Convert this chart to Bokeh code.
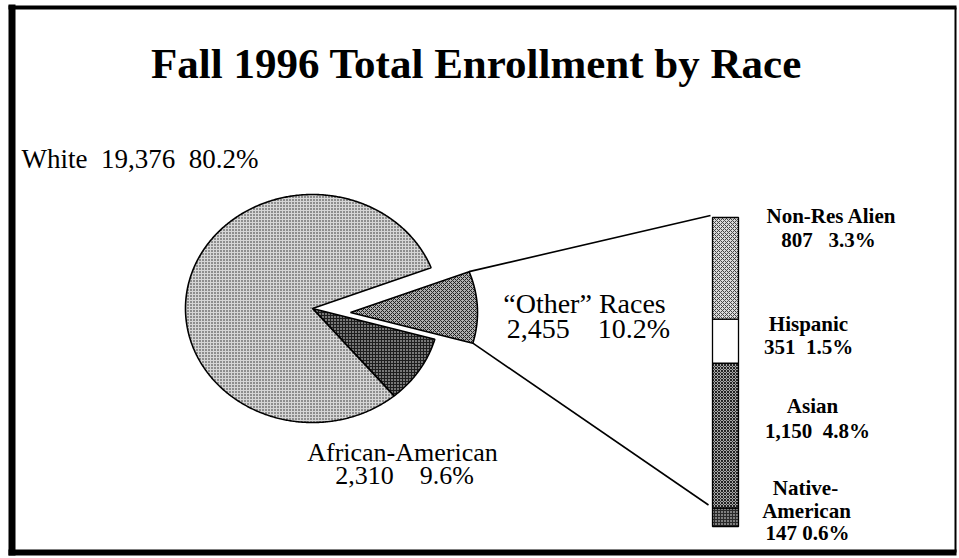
import numpy as np
from bokeh.plotting import figure
from bokeh.models import Range1d, ColumnDataSource
from bokeh.core.properties import value
from bokeh.embed import file_html
from bokeh.resources import INLINE

# ---------------- data ----------------
title_text = "Fall 1996 Total Enrollment by Race"
pie_names = ["\u201cOther\u201d Races", "African-American", "White"]
pie_counts = [2455, 2310, 19376]
pie_pcts = [10.2, 9.6, 80.2]
bar_names = ["Native-American", "Asian", "Hispanic", "Non-Res Alien"]
bar_counts = [147, 1150, 351, 807]
bar_pcts = [0.6, 4.8, 1.5, 3.3]

# ---------------- layout / style ----------------
W, H = 959, 558
FONT = value("Liberation Serif")
NB = "\u00a0"
p = figure(width=W, height=H, x_range=Range1d(0, W), y_range=Range1d(H, 0),
           output_backend="svg", toolbar_location=None, min_border=0,
           x_axis_location=None, y_axis_location=None)
p.grid.visible = False
p.outline_line_color = None
p.background_fill_color = "white"

# border
p.segment(x0=[11.5, 8, 955, 8], y0=[4, 7, 7, 552], x1=[11.5, 956, 955, 956], y1=[555, 7, 552, 552],
          line_color="black", line_width=[7, 4, 2, 6])

# pie geometry
cx, cy, rx, ry = 312, 308, 127, 114
start_deg = 21.0
explode = [(38, 4), (0, 0), (0, 0)]
styles = [
    dict(fill_color="#b0b0b0", hatch_pattern="x", hatch_color="#222222", hatch_scale=4, hatch_weight=1),
    dict(fill_color="#1e1e1e", hatch_pattern="dot", hatch_color="#ffffff", hatch_scale=3, hatch_weight=1),
    dict(fill_color="#d6d6d6", hatch_pattern="dot", hatch_color="#222222", hatch_scale=3, hatch_weight=1),
]
total = sum(pie_counts)
a = start_deg
corners = None
for i, c in enumerate(pie_counts):
    span = 360.0 * c / total
    th = np.radians(np.linspace(a, a - span, max(int(span * 2), 8)))
    ox, oy = explode[i]
    xs = [cx + ox] + list(cx + ox + rx * np.cos(th)) + [cx + ox]
    ys = [cy + oy] + list(cy + oy - ry * np.sin(th)) + [cy + oy]
    if i == 0:
        corners = ((xs[1], ys[1]), (xs[-2], ys[-2]))
    p.patch(xs, ys, line_color="black", line_width=1.6, **styles[i])
    a -= span

# stacked bar for "other" races, on its own count scale
bar_left, bar_right = 712, 738
bar_bottom_px, bar_top_px = 526, 217
other_total = sum(bar_counts)
scale = (bar_bottom_px - bar_top_px) / other_total
p.extra_y_ranges = {"bar": Range1d(start=(bar_bottom_px - H) / scale,
                                   end=(bar_bottom_px - 0) / scale)}
cum = np.cumsum([0] + bar_counts)
bar_styles = [
    dict(fill_color="#2a2a2a", hatch_pattern="dot", hatch_color="#ffffff", hatch_scale=3, hatch_weight=1),
    dict(fill_color="#a8a8a8", hatch_pattern="x", hatch_color="#222222", hatch_scale=3, hatch_weight=1),
    dict(fill_color="#ffffff"),
    dict(fill_color="#dadada", hatch_pattern="x", hatch_color="#444444", hatch_scale=4, hatch_weight=1),
]
for i in range(len(bar_counts)):
    p.quad(left=[bar_left], right=[bar_right], bottom=[cum[i]], top=[cum[i + 1]],
           y_range_name="bar", line_color="black", line_width=1.3, **bar_styles[i])

# connector lines
top_end_y = bar_bottom_px - other_total * scale
bot_end_y = bar_bottom_px - bar_counts[0] * scale
(tx, ty), (bx, by) = corners
p.segment(x0=[tx, bx], y0=[ty, by], x1=[bar_left - 2, bar_left - 4], y1=[top_end_y - 2, bot_end_y - 3],
          line_color="black", line_width=1.6)

# ---------------- texts ----------------
def fmt(c, pct, nsp=2):
    return f"{c:,}" + " " + NB * (nsp - 1) + f"{pct}%"

p.text(x=[476], y=[63], text=[title_text], text_font=FONT, text_font_size="43px",
       text_font_style="bold", text_align="center", text_baseline="alphabetic", text_color="black")

pie_txt = [
    (pie_names[2] + " " + NB + fmt(pie_counts[2], pie_pcts[2]), 21, 158, "left", "27px"),
    (pie_names[0], 584, 303, "center", "28px"),
    (fmt(pie_counts[0], pie_pcts[0], 4), 588, 328, "center", "28px"),
    (pie_names[1], 402, 452, "center", "26px"),
    (fmt(pie_counts[1], pie_pcts[1], 4), 404, 475, "center", "26px"),
]
for t, x, y, al, fs in pie_txt:
    p.text(x=[x], y=[y], text=[t], text_font=FONT, text_font_size=fs,
           text_align=al, text_baseline="alphabetic", text_color="black")

nat1, nat2 = bar_names[0].split("-")
bar_txt = [
    (bar_names[3], 831, 215), (fmt(bar_counts[3], bar_pcts[3], 3), 828, 239),
    (bar_names[2], 808, 323), (fmt(bar_counts[2], bar_pcts[2]), 808, 346),
    (bar_names[1], 812, 405), (fmt(bar_counts[1], bar_pcts[1]), 817, 430),
    (nat1 + "-", 805, 487), (nat2, 806, 510), (fmt(bar_counts[0], bar_pcts[0], 1), 807, 532),
]
for t, x, y in bar_txt:
    p.text(x=[x], y=[y], text=[t], text_font=FONT, text_font_size="21px", text_font_style="bold",
           text_align="center", text_baseline="alphabetic", text_color="black")

open("out.html", "w").write(file_html(p, INLINE))
